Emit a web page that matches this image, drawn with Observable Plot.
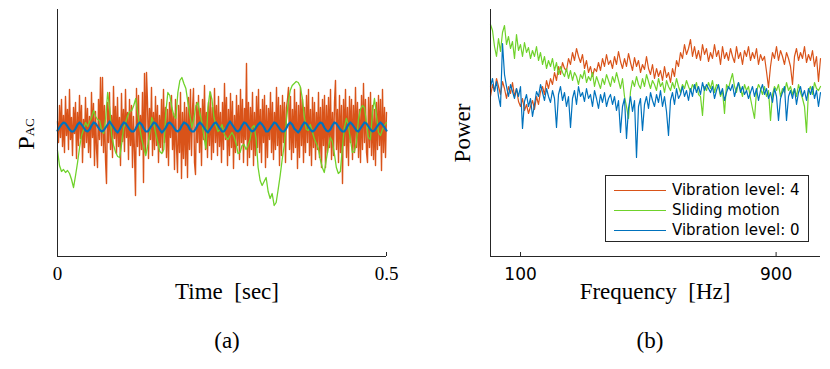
<!DOCTYPE html>
<html><head><meta charset="utf-8">
<script src="https://cdn.jsdelivr.net/npm/d3@7"></script>
<script src="https://cdn.jsdelivr.net/npm/@observablehq/plot@0.6"></script>
<style>
body{margin:0;background:#fff;}
#wrap{position:relative;width:830px;height:369px;overflow:hidden;background:#fff;}
#wrap svg{position:absolute;top:0;}
.lbl{position:absolute;font-family:"Liberation Serif","Times New Roman",serif;font-size:23px;line-height:1;white-space:pre;color:#000;transform:translate(-50%,-50%);}
.rot{transform:translate(-50%,-50%) rotate(-90deg);}
#legend{position:absolute;left:605px;top:175px;width:204px;height:67px;box-sizing:border-box;border:1px solid #262626;background:#fff;}
.sw{position:absolute;left:8px;width:52px;height:1.4px;}
.lt{position:absolute;left:66px;font-family:"DejaVu Sans",sans-serif;font-size:15px;line-height:20px;white-space:pre;color:#000;}
</style></head>
<body><div id="wrap"></div>
<script>
// ---------- panel (a): P_AC vs time (arbitrary units) ----------
const timeOrange = [
6,-15,22,-10,28,-19,12,-25,31,-8,
18,-22,38,-12,10,-28,20,-6,25,-31,
15,-18,32,-11,22,-35,8,-20,30,-15,
19,-25,11,-30,35,-10,24,-38,16,-21,
-40,28,-12,50,-18,50,-25,22,-32,-56,
25,-15,35,-22,12,-30,41,-11,21,-26,
30,-19,10,-38,34,-14,18,-24,38,-10,
15,-32,28,-18,22,-40,11,-25,-68,39,
-19,32,-28,12,-22,35,-55,54,-25,55,
25,-31,19,-12,40,-28,15,-22,31,-18,
22,-35,12,-20,28,-25,38,-15,20,-30,
18,-38,25,-10,32,-22,14,-42,28,-19,
-45,22,-25,35,-51,15,-31,25,-38,20,
-50,30,-22,38,-28,18,39,-35,-47,25,
-15,32,-25,19,-38,28,-12,42,-22,15,
-30,25,-18,35,-32,20,-25,39,-15,22,
-28,31,-19,15,-35,25,-22,44,-12,30,
-38,18,-28,34,-20,26,-41,12,-25,32,
-18,22,-32,38,-15,28,-35,19,-12,64,
-38,25,-30,20,-22,35,-38,15,-28,31,
-20,38,-25,18,-35,28,-15,32,-40,22,
-30,19,-12,35,-25,25,-32,15,-22,40,
-18,30,-38,22,-28,32,-15,25,-35,20,
28,40,-22,31,-32,18,-25,38,-20,25,
-41,22,-30,40,-18,28,-35,20,-25,32,
-15,38,-28,18,-38,30,-20,25,-32,15,
-22,35,-30,20,-40,28,-18,32,-40,22,
-25,30,-20,38,-32,15,-28,25,47,-22,
18,-35,32,-25,22,-56,28,-18,38,-30,
20,-38,31,-15,28,-32,22,-25,40,-20,
25,-30,18,-35,32,-22,44,-15,28,-25,
-35,30,-20,35,-28,22,-32,18,-38,25,
-22,32,-18,28,-43,38,-25,20,-30,15];
const timeGreen = [
-23,-38,-44,-42,-45,-43,-46,-52,-60,-48,
-35,-20,-8,-2,5,1,6,10,17,11,
8,7,-3,-6,9,35,20,-8,-18,-25,
-29,-30,-16,0,5,12,16,17,22,29,
14,0,-12,-20,-28,-18,-5,10,4,-6,
-15,-24,-26,-22,15,35,32,20,12,9,
35,47,50,44,39,25,12,0,8,22,
25,14,5,-10,-21,20,36,28,10,2,
-4,-2,3,-6,-10,-12,-8,-5,-9,-16,
-26,-25,-18,-17,-22,-18,-12,0,2,-12,
-40,-53,-58,-54,-50,-64,-71,-66,-78,-75,
-62,-48,-32,-18,5,25,37,42,44,46,
45,41,30,12,-2,-3,3,-4,-11,-16,
-21,-32,-40,-45,-32,-20,-10,-14,-26,-40,
-46,-44,-20,0,9,2,-12,-25,-24,-15,
8,18,22,20,5,-10,-12,15,29,12,
-5,-8,-2,2,5];
const timeBlue = [
-3,0,3,5,4,1,-2,-4, -4,-1,3,5,3,0,-3, -4,-2,2,5,4,1,-2,-4, -3,0,3,6,3,0,-3,
-5,-2,2,5,4,1,-2,-4, -4,-1,3,5,3,-1,-4, -4,-1,2,5,4,1,-2,-5, -3,0,4,5,3,0,-3,
-4,-2,2,5,4,2,-2,-4, -4,-1,3,5,3,0,-3, -5,-2,1,4,5,2,-1,-4, -4,-1,3,6,3,0,-3,
-4,-2,2,5,4,1,-2,-4, -3,0,3,5,3,0,-4, -4,-1,2,5,4,1,-2,-4, -4,-1,3,5,3,-1,-3,
-5,-2,2,5,4,1,-2,-4, -3,0,3,5,4,0,-3, -4,-2,2,5,4,1,-2,-4, -4,-1,3,5,3,0,-3,
-4,-1,2,5,4,1,-2,-4, -3,0,3,5,3,0,-3];
const timeTicks = [0, 0.5];
const timeTickLabels = ["0", "0.5"];
const timeSpan = 0.5;

// ---------- panel (b): power spectrum (arbitrary units) ----------
const freqOrange = [
160,172,165,178,170,162,175,168,158,170,
163,174,160,168,155,150,158,146,152,143,
150,156,147,160,152,165,170,162,176,168,
178,172,184,176,190,182,194,188,186,198,
192,204,196,208,200,194,202,188,196,184,
190,180,188,185,194,186,198,190,202,192,
196,188,200,192,205,195,188,198,190,203,
194,186,199,190,196,184,192,187,200,188,
182,192,178,188,180,186,176,190,179,184,
174,188,180,196,190,204,198,212,202,208,
217,200,210,198,206,196,212,202,208,195,
204,198,212,200,206,192,210,198,204,196,
208,200,194,210,198,204,192,206,200,210,
196,204,198,208,192,202,196,200,185,169,
190,204,198,210,196,206,200,192,204,198,
190,172,200,208,196,204,198,210,194,202,
196,206,190,200,175,198];
const freqGreen = [
232,226,210,200,218,205,224,231,212,220,
208,215,198,222,206,212,200,214,204,209,
198,206,200,210,196,204,192,200,188,196,
190,198,186,194,182,190,184,180,188,178,
186,176,184,180,172,182,178,186,174,180,
176,184,170,180,174,168,178,172,182,176,
170,180,174,184,176,168,178,160,150,138,
165,176,170,180,172,168,178,170,182,175,
168,176,172,166,178,170,174,164,176,170,
166,174,168,178,170,164,172,168,176,170,
165,172,168,174,162,160,141,170,166,174,
168,176,164,172,170,160,166,143,172,168,
176,183,170,164,174,168,160,172,166,170,
158,148,138,165,172,168,162,170,160,166,
136,162,170,166,172,160,168,164,174,166,
170,162,168,160,172,164,158,150,124,166,
170,162,174,168,166,170];
const freqBlue = [
170,178,165,175,160,150,213,182,170,160,
172,165,158,168,160,170,128,155,162,150,
158,140,152,165,160,172,164,156,168,160,
154,166,158,129,162,170,156,164,150,160,
129,158,166,152,170,160,164,155,168,158,
162,150,166,158,148,162,154,164,150,158,
162,152,160,146,156,124,150,158,118,148,
160,145,156,99,150,158,126,152,160,148,
164,156,150,162,154,166,150,160,145,121,
156,164,152,168,158,162,170,160,166,156,
168,160,172,164,170,162,174,166,172,168,
164,170,158,166,172,162,168,156,164,170,
166,172,160,168,174,164,170,162,166,158,
164,170,160,168,156,166,172,162,168,158,
164,154,168,160,136,158,164,170,136,160,
166,158,168,152,164,170,160,166,156,168,
162,170,158,166,150,164];
const freqStart = 6, freqEnd = 1039;
const freqTicks = [100, 900];
const freqTickLabels = ["100", "900"];

const seriesNames = ["Vibration level: 4", "Sliding motion", "Vibration level: 0"];
const seriesColors = ["#D95319", "#6FD22B", "#0072BD"];

// ---------- build tables ----------
const toTime = arr => arr.map((v, i) => ({x: i * timeSpan / (arr.length - 1), y: v}));
const toFreq = arr => arr.map((v, i) => ({x: freqStart + i * (freqEnd - freqStart) / (arr.length - 1), y: v}));

const axisCol = "#262626";
const yA = [-129, 118];
const yB = [0, 247];

const plotA = Plot.plot({
  width: 415, height: 285,
  marginLeft: 57, marginRight: 29, marginTop: 9, marginBottom: 29,
  x: {domain: [0, timeSpan]},
  y: {domain: yA, axis: null},
  style: {fontFamily: "'Liberation Serif', serif", fontSize: "19px", color: "#000", background: "transparent", overflow: "visible"},
  marks: [
    Plot.line(toTime(timeOrange), {x: "x", y: "y", stroke: seriesColors[0], strokeWidth: 1.4}),
    Plot.line(toTime(timeGreen), {x: "x", y: "y", stroke: seriesColors[1], strokeWidth: 1.3}),
    Plot.line(toTime(timeBlue), {x: "x", y: "y", stroke: seriesColors[2], strokeWidth: 2.2}),
    Plot.ruleY([yA[0]], {stroke: axisCol, strokeWidth: 1}),
    Plot.ruleX([0], {stroke: axisCol, strokeWidth: 1}),
    Plot.ruleX(timeTicks, {y1: yA[0], y2: yA[0] + 4, stroke: axisCol}),
    Plot.axisX({ticks: timeTicks, tickSize: 0, tickPadding: 10, label: null, fontSize: 19,
      tickFormat: d => timeTickLabels[timeTicks.indexOf(d)]})
  ]
});
plotA.style.left = "0px";

const plotB = Plot.plot({
  width: 415, height: 285,
  marginLeft: 75, marginRight: 10, marginTop: 9, marginBottom: 29,
  x: {domain: [freqStart, freqEnd]},
  y: {domain: yB, axis: null},
  style: {fontFamily: "'DejaVu Sans', sans-serif", fontSize: "17px", color: "#000", background: "transparent", overflow: "visible"},
  marks: [
    Plot.line(toFreq(freqOrange), {x: "x", y: "y", stroke: seriesColors[0], strokeWidth: 1.2}),
    Plot.line(toFreq(freqGreen), {x: "x", y: "y", stroke: seriesColors[1], strokeWidth: 1.2}),
    Plot.line(toFreq(freqBlue), {x: "x", y: "y", stroke: seriesColors[2], strokeWidth: 1.2}),
    Plot.ruleY([yB[0]], {stroke: axisCol, strokeWidth: 1}),
    Plot.ruleX([freqStart], {stroke: axisCol, strokeWidth: 1}),
    Plot.ruleX(freqTicks, {y1: yB[0], y2: yB[0] + 4, stroke: axisCol}),
    Plot.axisX({ticks: freqTicks, tickSize: 0, tickPadding: 11, label: null, fontSize: 17,
      tickFormat: d => freqTickLabels[freqTicks.indexOf(d)]})
  ]
});
plotB.style.left = "415px";

const wrap = document.getElementById("wrap");
wrap.appendChild(plotA);
wrap.appendChild(plotB);

function addLabel(html, x, y, cls) {
  const d = document.createElement("div");
  d.className = "lbl" + (cls ? " " + cls : "");
  d.innerHTML = html;
  d.style.left = x + "px";
  d.style.top = y + "px";
  wrap.appendChild(d);
  return d;
}
addLabel("Time  [sec]", 227, 291);
addLabel("(a)", 227, 340);
addLabel("Frequency  [Hz]", 655, 291);
addLabel("(b)", 650, 340);
addLabel('<span style="font-size:24px">P</span><span style="font-size:13px">AC</span>', 26, 134, "rot");
addLabel("Power", 462, 133, "rot");

// legend
const lg = document.createElement("div");
lg.id = "legend";
seriesNames.forEach((name, i) => {
  const cy = 14.3 + i * 20;
  const sw = document.createElement("div");
  sw.className = "sw";
  sw.style.top = (cy - 0.7) + "px";
  sw.style.background = seriesColors[i];
  lg.appendChild(sw);
  const t = document.createElement("div");
  t.className = "lt";
  t.textContent = name;
  t.style.top = (cy - 10) + "px";
  lg.appendChild(t);
});
wrap.appendChild(lg);
</script>
</body></html>
